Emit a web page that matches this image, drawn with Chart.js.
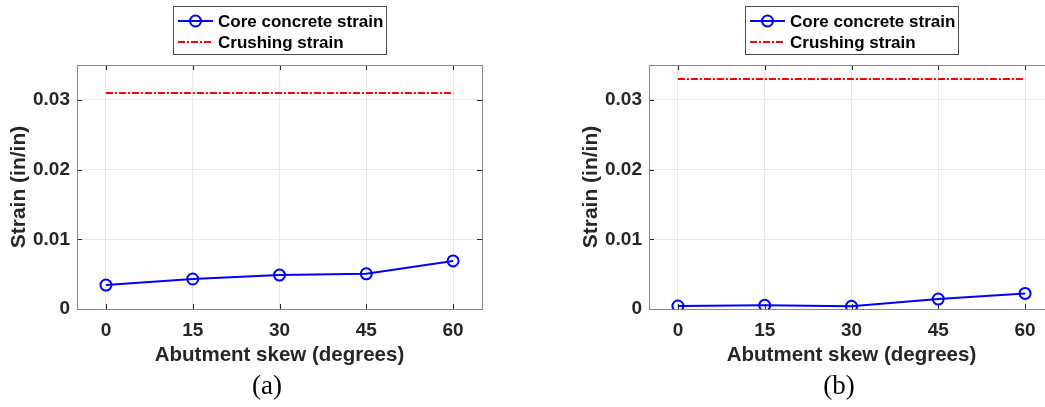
<!DOCTYPE html>
<html>
<head>
<meta charset="utf-8">
<script src="https://cdn.jsdelivr.net/npm/chart.js@4.4.1/dist/chart.umd.min.js"></script>
<style>
  html, body { margin: 0; padding: 0; background: #ffffff; }
  body { width: 1045px; height: 407px; overflow: hidden; position: relative; }
  canvas { position: absolute; top: 0; }
  #panelA { left: 0; }
  #panelB { left: 572px; }
</style>
</head>
<body>
<canvas id="panelA" width="522" height="407"></canvas>
<canvas id="panelB" width="522" height="407"></canvas>
<script>
// Abutment skew angles (degrees)
const skewAngles = [0, 15, 30, 45, 60];

// Panel (a): core concrete strain and crushing strain (in/in)
const coreStrainA = [0.00343, 0.0043, 0.00486, 0.00505, 0.0069];
const crushStrainA = [0.031, 0.031, 0.031, 0.031, 0.031];

// Panel (b)
const coreStrainB = [0.00043, 0.00052, 0.00038, 0.00143, 0.00224];
const crushStrainB = [0.033, 0.033, 0.033, 0.033, 0.033];

// Axis ticks
const xTickValues = [0, 15, 30, 45, 60];
const yTickValues = [0, 0.01, 0.02, 0.03];
const yTickLabels = ['0', '0.01', '0.02', '0.03'];

const seriesNames = ['Core concrete strain', 'Crushing strain'];
const panelLabels = ['(a)', '(b)'];

const SANS = 'Arial, "Liberation Sans", sans-serif';
const SERIF = '"Times New Roman", "Liberation Serif", serif';
const INK = '#262626';

// Closed box, inward tick marks, boxed legend and panel caption
const framePlugin = {
  id: 'frame',
  beforeDatasetsDraw(chart) {
    const { ctx, chartArea: a, scales } = chart;
    ctx.save();
    ctx.strokeStyle = INK;
    ctx.lineWidth = 1;
    ctx.beginPath();
    const tl = 5;
    scales.x.ticks.forEach(t => {
      const px = Math.round(scales.x.getPixelForValue(t.value)) + 0.5;
      ctx.moveTo(px, a.bottom); ctx.lineTo(px, a.bottom - tl);
      ctx.moveTo(px, a.top); ctx.lineTo(px, a.top + tl);
    });
    scales.y.ticks.forEach(t => {
      const py = Math.round(scales.y.getPixelForValue(t.value)) + 0.5;
      ctx.moveTo(a.left, py); ctx.lineTo(a.left + tl, py);
      ctx.moveTo(a.right, py); ctx.lineTo(a.right - tl, py);
    });
    ctx.stroke();
    ctx.strokeStyle = '#8a8a8a';
    ctx.strokeRect(Math.round(a.left) + 0.5, Math.round(a.top) + 0.5,
                   Math.round(a.right - a.left), Math.round(a.bottom - a.top));
    ctx.restore();
  },
  afterDraw(chart, args, opts) {
    const { ctx } = chart;
    ctx.save();
    // legend box
    const bx = 173.5, by = 6.5, bw = 213, bh = 48;
    ctx.fillStyle = '#ffffff';
    ctx.fillRect(bx, by, bw, bh);
    ctx.strokeStyle = '#4d4d4d';
    ctx.lineWidth = 1;
    ctx.strokeRect(bx, by, bw, bh);
    const rows = [21, 42];
    const x0 = 178, x1 = 213;
    chart.data.datasets.forEach((ds, i) => {
      const y = rows[i];
      ctx.strokeStyle = ds.borderColor;
      ctx.lineWidth = ds.borderWidth;
      ctx.setLineDash(ds.borderDash || []);
      ctx.beginPath();
      ctx.moveTo(x0, y); ctx.lineTo(x1, y);
      ctx.stroke();
      ctx.setLineDash([]);
      if (ds.pointRadius > 0) {
        ctx.lineWidth = ds.pointBorderWidth;
        ctx.beginPath();
        ctx.arc((x0 + x1) / 2, y, ds.pointRadius, 0, Math.PI * 2);
        ctx.stroke();
      }
      ctx.fillStyle = '#000000';
      ctx.font = 'bold 17px ' + SANS;
      ctx.textBaseline = 'middle';
      ctx.textAlign = 'left';
      ctx.fillText(ds.label, 218, y + 1);
    });
    // panel caption
    ctx.fillStyle = '#000000';
    ctx.font = '27px ' + SERIF;
    ctx.textAlign = 'center';
    ctx.textBaseline = 'middle';
    ctx.fillText(opts.caption, 267, 387);
    ctx.restore();
  }
};

function buildPanel(canvasId, core, crush, caption) {
  const toPoints = ys => skewAngles.map((x, i) => ({ x: x, y: ys[i] }));
  return new Chart(document.getElementById(canvasId), {
    type: 'line',
    data: {
      datasets: [
        {
          label: seriesNames[0],
          data: toPoints(core),
          borderColor: '#0000ff',
          backgroundColor: 'rgba(0,0,0,0)',
          borderWidth: 2,
          pointRadius: 5.5,
          pointHoverRadius: 5.5,
          pointBorderWidth: 2,
          pointBackgroundColor: 'rgba(0,0,0,0)',
          pointBorderColor: '#0000ff',
          tension: 0
        },
        {
          label: seriesNames[1],
          data: toPoints(crush),
          borderColor: '#ff0000',
          borderWidth: 2,
          borderDash: [7, 2, 2, 2],
          pointRadius: 0,
          tension: 0
        }
      ]
    },
    options: {
      responsive: false,
      animation: false,
      devicePixelRatio: 1,
      layout: { padding: { left: 0, top: 65, right: 40, bottom: 0 } },
      plugins: {
        legend: { display: false },
        tooltip: { enabled: false },
        frame: { caption: caption }
      },
      scales: {
        x: {
          type: 'linear',
          min: -5,
          max: 65,
          afterFit: s => { s.height = 98; },
          afterBuildTicks: s => { s.ticks = xTickValues.map(v => ({ value: v })); },
          grid: { color: '#e8e8e8', drawTicks: false },
          border: { display: false },
          ticks: {
            padding: 10,
            color: INK,
            font: { family: SANS, size: 19, weight: 'bold' },
            maxRotation: 0,
            callback: v => String(v)
          },
          title: {
            display: true,
            text: 'Abutment skew (degrees)',
            color: INK,
            font: { family: SANS, size: 20.5, weight: 'bold' },
            padding: { top: 0, bottom: 39 }
          }
        },
        y: {
          type: 'linear',
          min: 0,
          max: 0.035,
          afterFit: s => { s.width = 77; },
          afterBuildTicks: s => { s.ticks = yTickValues.map(v => ({ value: v })); },
          grid: { color: '#e8e8e8', drawTicks: false },
          border: { display: false },
          ticks: {
            padding: 7,
            color: INK,
            font: { family: SANS, size: 19, weight: 'bold' },
            callback: v => {
              const i = yTickValues.findIndex(t => Math.abs(t - v) < 1e-9);
              return i >= 0 ? yTickLabels[i] : '';
            }
          },
          title: {
            display: true,
            text: 'Strain (in/in)',
            color: INK,
            font: { family: SANS, size: 21, weight: 'bold' },
            padding: { top: 7, bottom: 0 }
          }
        }
      }
    },
    plugins: [framePlugin]
  });
}

buildPanel('panelA', coreStrainA, crushStrainA, panelLabels[0]);
buildPanel('panelB', coreStrainB, crushStrainB, panelLabels[1]);
</script>
</body>
</html>
